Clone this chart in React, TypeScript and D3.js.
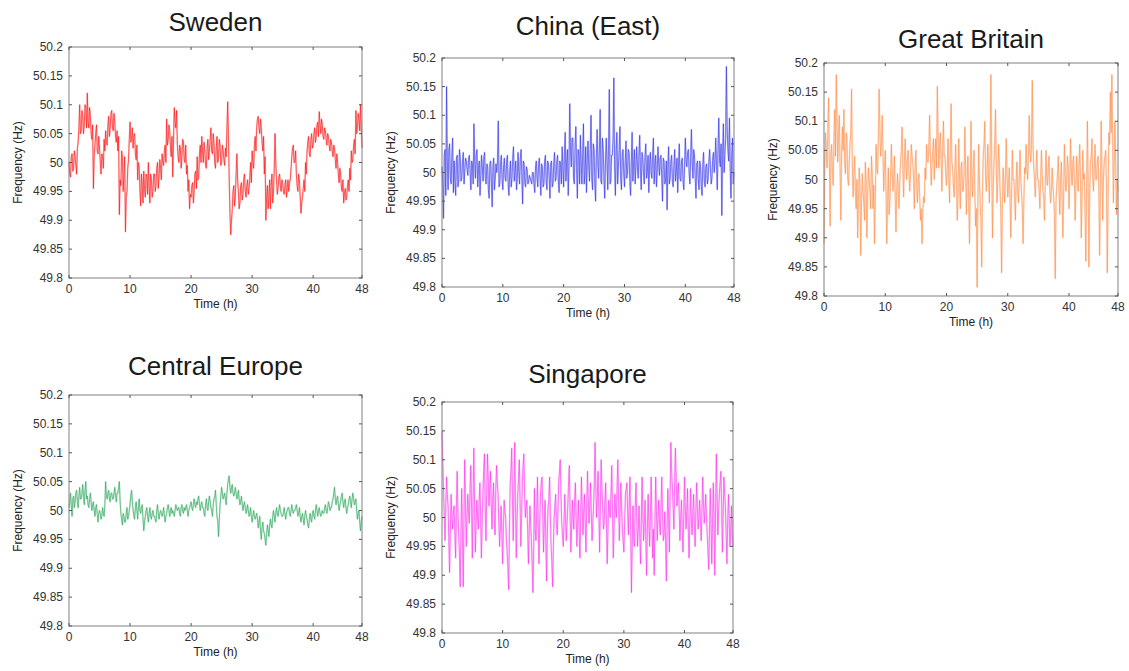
import React from "react";
import * as d3 from "d3";

// Frequency deviation from 50 Hz, in mHz.
// "...MilliHz" arrays are read at t = 0, 0.25, 0.5 … 48 h;
// "...MidMilliHz" arrays are read at the in-between times t = 0.125, 0.375 … 47.875 h.
const sampleStepHours = 0.25;

const swedenMilliHz = [
  0, -25, 15, -10, 10, -20, 35, 100, 55, 80, 65, 95, 120, 60, 80, 40,
  -45, 30, 65, 15, 25, -20, 10, 40, 55, 30, 80, 60, 90, 55, 70, 35,
  20, -90, -40, 10, -20, -120, -50, 5, 70, 40, 25, 50, 5, -30, -10, -75,
  -40, -15, -60, -25, 0, -70, -30, -50, -20, -40, 0, -25, -10, 15, -5, 30,
  75, 40, 55, 10, -25, 95, 60, 30, 0, 25, 10, 35, 0, -20, -50, -80,
  -60, -35, -50, -15, 10, -25, 30, 45, 0, 20, -10, 40, 20, 60, 15, 35,
  -10, 45, 10, 30, 0, 20, -5, 10, 105, -30, -125, -80, -40, -60, 15, -50,
  -70, -35, -55, -20, -60, -30, -45, 0, 20, -10, 45, 60, 80, 50, 60, 20,
  -20, -100, -40, -60, -80, -20, -50, 50, -30, -45, -20, -50, -35, -55, -30, -45,
  -50, -30, 10, 30, 0, -20, -50, -30, -88, -60, -30, 0, 20, 45, 10, 50,
  30, 60, 45, 70, 88, 50, 65, 40, 55, 30, 45, 20, 35, 10, 25, -10,
  0, -35, -20, -50, -70, -45, -60, -30, -10, 20, 5, 40, 90, 60, 75, 100,
  25,
];
const swedenMidMilliHz = [
  -20, 10, -15, 20, -5, 25, 60, 50, 90, 50, 100, 60, 70, 95, 50, 65,
  10, 50, 20, 45, 0, 15, -10, 20, 35, 65, 45, 85, 60, 85, 45, 55,
  45, -30, 20, -50, 10, -60, -10, 40, 35, 60, 45, 15, 30, 0, -50, -20,
  -70, -45, -20, -55, -40, -20, -60, -20, -50, -10, -45, 5, -30, 0, 20, 0,
  30, 65, 25, 45, 40, 70, 90, 10, 30, -10, 40, 5, 30, -5, -30, -55,
  -40, -70, -20, -45, -30, 15, 0, 20, 35, -5, 25, 5, 40, 20, 50, 0,
  25, 0, 40, -5, 30, 5, 25, 60, 40, -90, -100, -50, -75, -20, -30, -80,
  -40, -65, -30, -50, -40, -55, -25, -35, 0, 30, 20, 75, 60, 75, 35, 45,
  10, -60, -80, -30, -40, -70, -10, 0, -55, -25, -40, -30, -50, -40, -60, -30,
  -35, -10, 25, 0, 20, -40, -20, -60, -70, -45, -50, -20, 35, 15, 40, 25,
  50, 35, 65, 45, 65, 75, 45, 60, 40, 50, 30, 40, 20, 30, 5, 15,
  -20, -10, -45, -30, -55, -65, -40, -50, -30, 0, 30, 15, 50, 85, 55, 60,
];

const chinaEastMilliHz = [
  10, -80, 40, 150, -30, 50, -20, 60, 20, -40, 30, -15, 25, -10, 35, 5,
  20, -5, 30, -30, 15, 85, -10, 40, 5, -40, 30, -15, 35, -20, 10, -45,
  20, -60, 25, -10, 0, 90, -20, 30, -30, 25, -15, 30, -40, 20, -10, 45,
  0, -30, 35, -20, 40, -55, 15, -25, 5, -15, -10, -20, 0, -35, 20, -25,
  25, -40, 10, -20, 30, -30, 15, -45, 20, -20, 35, -10, 30, -35, 10, 45,
  -25, 70, 20, -40, 120, 10, 60, -20, 80, -45, 30, 65, -20, 85, 0, -35,
  55, -15, 100, -30, 40, -50, 75, -10, 110, -20, 40, -45, 60, -30, 145, -15,
  30, 165, -40, 70, 10, 80, -30, 40, -25, 55, 0, 35, -40, 70, 15, -20,
  45, -10, 65, -30, 25, -20, 50, 0, -35, 35, -10, 60, 15, -25, 45, -5,
  30, -50, 20, -15, -65, 45, -10, 30, -25, 40, 0, -35, 50, -15, 25, -30,
  60, 10, 40, -20, 75, -10, 30, -45, 20, -30, 10, -40, 35, -25, 15, -10,
  40, -20, 25, 0, 60, -30, 95, 10, -75, 85, 30, 185, 40, 95, -45, 60,
  0,
];
const chinaEastMidMilliHz = [
  -20, 30, -40, 20, 40, -10, 30, -35, -15, 25, -25, 40, -15, 20, -20, 25,
  5, 25, 0, 20, -20, 20, 30, -25, 20, -5, 10, 25, -10, 15, -30, 15,
  -20, 10, -30, 15, 20, -25, 15, -10, 10, -10, 20, -20, 0, -25, 25, -15,
  20, -10, 0, 25, -5, 20, -20, 10, -20, -5, -15, 0, -20, 10, -10, 15,
  -10, 15, -25, 20, -15, 20, -10, 15, -25, 15, -15, 20, -15, 20, -20, 10,
  30, -15, 40, 10, 40, 60, -10, 45, 10, 40, -20, 20, 30, -20, 45, 20,
  10, 40, -10, 50, -20, 30, 15, 40, -15, 60, -10, 20, 20, 40, -20, 30,
  60, 10, 40, -20, 40, -10, 30, 0, 20, -10, 40, -15, 20, -15, 40, 10,
  10, 30, 0, 35, 0, 30, -10, 30, 15, 0, 30, -20, 30, 0, 15, 25,
  -10, 25, -20, 20, 10, -20, 20, -15, 10, -15, 25, 10, -10, 20, -15, 10,
  20, 35, 0, 25, 20, 40, -10, 15, -10, 20, -25, 15, -15, 10, -20, 20,
  10, -10, 35, 20, 15, 40, 20, 50, 30, 0, 60, 80, 20, 10, 30, -20,
];

const greatBritainMilliHz = [
  -110, 80, 20, 140, -80, 60, -10, 120, 180, 30, 110, -70, 90, 120, 10, 70,
  -10, 60, 155, -30, 40, -50, -100, 20, -130, 10, -40, 30, -100, 20, -20, 40,
  -50, -110, 60, 10, 155, 40, 110, -20, 50, -110, 20, -40, 60, -20, 40, -90,
  10, -50, 30, 90, -30, 70, 0, 50, -20, 60, 30, -50, 50, -40, 10, -70,
  -110, -30, 20, 60, 30, 110, -10, 50, 0, 70, 160, 20, 80, -20, 100, 40,
  -10, 70, -40, 130, 20, -30, 60, -70, 70, -50, 30, -20, 90, -60, 40, -110,
  100, -30, 50, -80, -185, 60, -40, -150, 40, 100, -20, 60, -40, 180, -100, 30,
  120, -40, 60, -20, -160, 20, -40, 70, -30, 20, -100, 50, 0, -70, 30, -40,
  50, -20, -110, 20, 60, 0, 110, 30, 170, 20, -30, 50, 0, -50, 50, -20,
  -70, 50, -10, 40, -40, 20, -30, -170, -10, 40, -60, 30, -100, 60, -20, 40,
  -50, 70, -10, 40, -70, 40, -20, 60, -100, 50, 10, -140, 100, -150, 30, 70,
  -20, 60, 0, 40, -130, 100, -70, 30, 50, -160, 80, 150, 180, -40, 100, -60,
  -20,
];
const greatBritainMidMilliHz = [
  20, 50, 90, 30, 40, 10, 70, 40, 100, 80, 20, 40, 50, 30, 80, 0,
  30, 80, 20, 10, -20, 0, -40, -10, -40, -20, -70, 0, -30, 0, -50, 10,
  -10, -40, 20, 70, 90, 60, 50, 20, -20, -40, -60, 0, 20, 0, -30, -20,
  -20, 0, 50, 20, 30, 20, 40, 10, 10, 40, 0, 20, -10, 0, -30, -50,
  -60, -40, 0, 30, 60, 40, 20, 70, 40, 20, 80, 60, 30, 50, 40, 10,
  20, 0, 50, 30, -10, 20, 0, -30, 0, 20, -20, 10, 20, 0, -30, -20,
  0, 20, -20, -50, -40, 0, -70, -20, 60, 10, 20, 0, 50, 40, -20, 60,
  20, 0, 30, -60, -40, -10, 0, 10, -10, -40, -20, 0, -30, 0, -20, 0,
  0, -50, -40, 10, 20, 40, 50, 60, 60, 0, 20, 0, -20, 0, 10, -30,
  -10, 0, 20, -20, -20, -10, -60, -40, 10, -20, 0, -30, -30, 10, 0, 20,
  0, 20, 30, 0, -20, 0, 20, 0, -30, 0, -60, -20, 0, -30, 40, 0,
  20, 0, 30, -20, -20, 20, 0, 40, -20, -40, 60, 80, 70, 30, 20, 0,
];

const centralEuropeMilliHz = [
  5, 30, -10, 25, 15, 35, 5, 40, 20, 45, 10, 50, 25, 5, 30, 0,
  15, -10, 10, -20, 0, -15, 5, -10, 50, 20, 35, 15, 30, 20, 40, 15,
  30, 50, -5, -25, -10, -20, 5, -10, 10, 35, 0, -15, 15, -15, 20, -5,
  10, -35, -10, 5, -20, 5, -15, 0, -10, -20, 10, -15, 0, -10, 5, -20,
  -5, 10, -10, 5, 0, -10, 10, 0, 5, -10, 10, -5, 0, 10, -10, 5,
  15, 0, 20, 5, 10, 25, 0, 15, 5, -10, 20, 0, 25, 5, -10, 20,
  35, -10, -45, 10, 40, 20, 30, 10, 45, 60, 30, 45, 25, 40, 20, 35,
  10, 25, 0, 15, -5, 10, -10, 5, -20, 0, -15, -5, -30, -10, -50, -20,
  -40, -60, -25, -45, -15, -30, 0, -20, 5, -10, 10, -5, -10, 5, -15, 0,
  5, -10, 10, -5, 0, 10, -10, 5, -20, -5, -25, 0, -15, -30, -5, -20,
  0, -15, 10, -10, 5, -10, 0, -5, 10, -5, 15, 0, 5, 20, 40, 10,
  25, 0, 15, 30, 5, 20, -5, 10, 25, 5, 30, 10, 20, -15, 0, -35,
  -10,
];
const centralEuropeMidMilliHz = [
  15, 10, 20, 5, 30, 15, 25, 20, 30, 25, 35, 20, 10, 20, 15, 10,
  0, 5, -5, -5, -5, -10, -5, 10, 25, 30, 20, 30, 20, 30, 25, 30,
  40, 15, -15, -5, -20, -5, -15, 0, 25, 15, -10, 5, 0, 5, 0, 5,
  -15, -20, 0, -10, -5, -10, -5, -10, -15, 0, -5, -5, -5, -5, -10, -10,
  5, 0, 0, -5, -5, 0, 5, 5, -5, 5, 0, 5, 5, 0, 0, 10,
  5, 10, 10, 15, 20, 10, 10, 5, -5, 10, 5, 15, 15, 0, 10, 25,
  10, -20, -15, 25, 30, 25, 20, 30, 55, 40, 40, 30, 30, 30, 25, 20,
  15, 10, 10, 5, 0, 0, -5, -10, -10, -10, -10, -15, -20, -35, -30, -35,
  -50, -40, -35, -25, -25, -10, -10, -5, -5, 0, 0, -10, -5, -5, -5, 5,
  -5, 0, 0, 0, 5, 0, -5, -10, -10, -15, -10, -10, -25, -15, -15, -5,
  -10, 0, 0, 0, -5, -5, -5, 5, 0, 5, 10, 5, 15, 30, 20, 20,
  10, 10, 25, 15, 15, 5, 5, 20, 15, 20, 20, 15, 0, -5, -20, -20,
];

const singaporeMilliHz = [
  150, 50, -40, 70, 20, -95, 40, -20, 20, -70, 80, -30, -120, 50, -120, 100,
  -50, 40, -10, 90, -70, 120, -60, 30, -20, 60, -70, 40, 110, -40, 110, 20,
  80, -20, 60, -30, 90, 40, -50, 20, -80, 30, 0, -60, -125, 60, 120, -40,
  130, -70, 40, 100, -50, 60, 110, 0, 30, -80, 20, -40, -130, 50, -40, 70,
  -80, 40, 70, -60, 30, -110, 20, 70, -50, -120, 0, 40, -30, 60, 100, -10,
  -50, 40, -40, 20, 90, -60, 30, -20, 60, -50, 30, -70, 70, -30, 40, -60,
  80, -10, 60, -40, 20, 130, 0, 80, -60, 100, 20, -10, 60, -80, 30, 0,
  90, -70, 40, 0, 100, -40, 60, -20, -60, 40, 60, -30, 70, -130, 20, -50,
  60, -50, 20, -80, 70, -40, 30, -100, 40, -50, 70, -70, -100, 70, -40, 30,
  -30, 70, -40, 10, -110, 50, -60, 130, 50, -20, 120, 20, 60, -40, 30, -60,
  70, -20, 50, -70, 50, -30, 40, -50, 60, -20, 30, -40, 70, -10, 40, -30,
  -90, 50, -80, 60, -100, 110, -30, 40, 80, -60, 70, 20, -80, 40, -50, 20,
  -50,
];
const singaporeMidMilliHz = [
  100, 0, 20, 40, -40, -20, 0, 10, -30, 20, 10, -60, -30, -30, 0, 20,
  0, 10, 50, 20, 30, 20, -10, 0, 30, 0, -10, 80, 20, 40, 70, 50,
  20, 30, 0, 50, 60, -10, -20, -30, -20, 10, -40, -90, -20, 80, 30, 50,
  20, -10, 70, 30, 0, 90, 40, 20, -20, -30, -10, -80, -50, -20, 10, -20,
  -10, 60, 0, -10, -40, -30, 30, 0, -80, -50, 20, -10, 10, 80, 40, -30,
  -10, 0, -10, 60, 10, -20, 0, 30, 0, -10, -20, 0, 20, 10, -10, 20,
  30, 20, 10, -10, 60, 50, 40, 10, 20, 50, -20, 30, -10, -20, 10, 40,
  10, -20, 20, 50, 30, 10, 20, -40, -10, 50, 10, 20, -20, -50, -40, 20,
  0, -20, -30, -10, 10, -10, -40, -20, -10, 0, -10, -20, -10, 10, 0, -10,
  20, 10, -30, -40, -20, 0, 40, 80, 20, 60, 70, 40, 10, 0, -20, 0,
  20, 10, -20, -10, 0, 10, -10, 10, 20, 0, 0, 10, 30, 10, 0, -60,
  -20, -10, -10, 0, 10, 40, 10, 60, 20, 0, 40, -30, -10, 0, -20, -30,
];

const xTickValues = [0, 10, 20, 30, 40, 48];
const yTickValues = [49.8, 49.85, 49.9, 49.95, 50, 50.05, 50.1, 50.15, 50.2];
const xDomain: [number, number] = [0, 48];
const yDomain: [number, number] = [49.8, 50.2];

type Panel = {
  title: string;
  values: number[];
  midValues: number[];
  color: string;
  opacity: number;
  left: number;
  top: number;
  right: number;
  bottom: number;
  titleY: number;
};

const panels: Panel[] = [
  { title: "Sweden", values: swedenMilliHz, midValues: swedenMidMilliHz, color: "#ff0a0a", opacity: 0.72, left: 69, top: 47, right: 362, bottom: 278, titleY: 31 },
  { title: "China (East)", values: chinaEastMilliHz, midValues: chinaEastMidMilliHz, color: "#1f1fe6", opacity: 0.62, left: 442, top: 58, right: 734, bottom: 287, titleY: 35 },
  { title: "Great Britain", values: greatBritainMilliHz, midValues: greatBritainMidMilliHz, color: "#ff7a28", opacity: 0.55, left: 824, top: 63, right: 1118, bottom: 296, titleY: 48 },
  { title: "Central Europe", values: centralEuropeMilliHz, midValues: centralEuropeMidMilliHz, color: "#17a04d", opacity: 0.65, left: 69, top: 395, right: 362, bottom: 626, titleY: 375 },
  { title: "Singapore", values: singaporeMilliHz, midValues: singaporeMidMilliHz, color: "#ff1aec", opacity: 0.6, left: 442, top: 402, right: 733, bottom: 633, titleY: 383 },
];

const fontFamily = "'Liberation Sans', Arial, Helvetica, sans-serif";

function fmtY(v: number): string {
  return String(Math.round(v * 100) / 100);
}

function buildPoints(p: Panel): [number, number][] {
  const pts: [number, number][] = [];
  p.values.forEach((v, i) => {
    const t = i * sampleStepHours;
    pts.push([t, 50 + v / 1000]);
    if (i < p.midValues.length) pts.push([t + sampleStepHours / 2, 50 + p.midValues[i] / 1000]);
  });
  return pts;
}

function ChartPanel({ p }: { p: Panel }) {
  const x = d3.scaleLinear().domain(xDomain).range([p.left, p.right]);
  const y = d3.scaleLinear().domain(yDomain).range([p.bottom, p.top]);
  const pts = buildPoints(p);
  const line = d3
    .line<[number, number]>()
    .x((d) => x(d[0]))
    .y((d) => y(d[1]));
  const cx = (p.left + p.right) / 2;
  const cy = (p.top + p.bottom) / 2;
  const tickLen = 3;
  const tickColor = "#555";
  const d = line(pts) || "";
  return (
    <g>
      <text x={cx} y={p.titleY} textAnchor="middle" fontSize={26} fill="#1a1a1a" fontFamily={fontFamily}>
        {p.title}
      </text>
      <path d={d} fill="none" stroke={p.color} strokeWidth={1.7} strokeOpacity={0.22} strokeLinejoin="round" />
      <path d={d} fill="none" stroke={p.color} strokeWidth={0.85} strokeOpacity={p.opacity} />
      <rect
        x={p.left}
        y={p.top}
        width={p.right - p.left}
        height={p.bottom - p.top}
        fill="none"
        stroke="#808080"
        strokeWidth={1}
      />
      {xTickValues.map((t) => (
        <g key={"x" + t}>
          <line x1={x(t)} x2={x(t)} y1={p.bottom} y2={p.bottom - tickLen} stroke={tickColor} />
          <line x1={x(t)} x2={x(t)} y1={p.top} y2={p.top + tickLen} stroke={tickColor} />
          <text x={x(t)} y={p.bottom + 15} textAnchor="middle" fontSize={12} fill="#333" fontFamily={fontFamily}>
            {t}
          </text>
        </g>
      ))}
      {yTickValues.map((v) => (
        <g key={"y" + v}>
          <line x1={p.left} x2={p.left + tickLen} y1={y(v)} y2={y(v)} stroke={tickColor} />
          <line x1={p.right} x2={p.right - tickLen} y1={y(v)} y2={y(v)} stroke={tickColor} />
          <text x={p.left - 6} y={y(v) + 4} textAnchor="end" fontSize={12} fill="#333" fontFamily={fontFamily}>
            {fmtY(v)}
          </text>
        </g>
      ))}
      <text x={cx} y={p.bottom + 30} textAnchor="middle" fontSize={12} fill="#222" fontFamily={fontFamily}>
        Time (h)
      </text>
      <text
        transform={`translate(${p.left - 47},${cy}) rotate(-90)`}
        textAnchor="middle"
        fontSize={12}
        fill="#222"
        fontFamily={fontFamily}
      >
        Frequency (Hz)
      </text>
    </g>
  );
}

export default function App() {
  return (
    <svg
      width={1129}
      height={671}
      viewBox="0 0 1129 671"
      style={{ position: "absolute", left: 0, top: 0, background: "#fff" }}
    >
      <rect x={0} y={0} width={1129} height={671} fill="#fff" />
      {panels.map((p) => (
        <ChartPanel key={p.title} p={p} />
      ))}
    </svg>
  );
}
